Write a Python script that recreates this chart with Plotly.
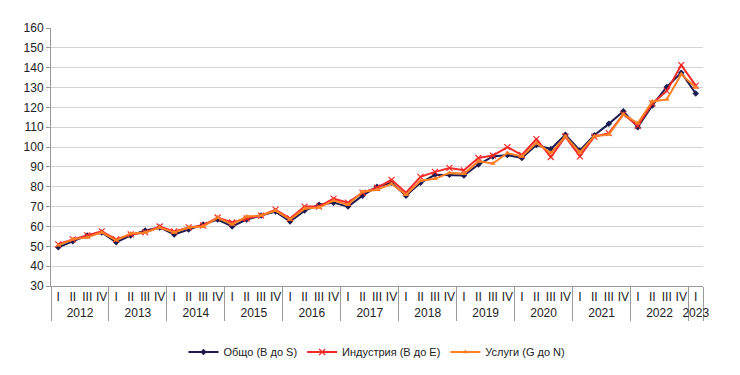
import plotly.graph_objects as go

years = ["2012", "2013", "2014", "2015", "2016", "2017", "2018", "2019", "2020", "2021", "2022", "2023"]
quarters = ["I", "II", "III", "IV"]

total = [49.5, 52.5, 55.5, 57, 52, 55.5, 58, 59.5, 56, 58.5, 61, 63.5,
         60, 63.5, 65.5, 67.5, 62.5, 68, 71, 72, 70, 75.5, 80, 82,
         75.5, 82, 86, 86, 85.7, 91.2, 95.3, 96, 94.5, 101, 99, 106.2,
         98.3, 106, 111.7, 118, 110, 121, 130.3, 137.5, 127]
industry = [51, 53.5, 55.5, 57.5, 53.5, 56, 57, 60, 57.5, 59.5, 60.5, 64.5,
            62, 64, 65.5, 68.5, 64, 70, 70, 74, 72, 77, 79.5, 83.5,
            77, 85, 87.5, 89.5, 88.3, 94.5, 95.7, 100, 96, 104, 95, 105.3,
            95.3, 105.3, 107, 116.5, 110.7, 122, 128.3, 141.3, 131]
services = [50.5, 53.5, 54.5, 57, 53, 56.5, 57, 59.5, 57, 59.5, 60, 64.5,
            61, 65, 65.5, 68, 63.5, 69, 69.5, 73, 71, 77.5, 78.5, 81.5,
            76, 83, 84, 87, 86.5, 92.8, 91.7, 97, 95.3, 102, 97, 105.5,
            97.3, 105.5, 106.3, 116.5, 112, 123, 124, 136.7, 130]

n = len(total)
x_year = [years[i // 4] for i in range(n)]
x_q = [quarters[i % 4] for i in range(n)]

fig = go.Figure()
fig.add_trace(go.Scatter(x=[x_year, x_q], y=total, name="Общо (B до S)", mode="lines+markers",
                         line=dict(color="#1c1c52", width=2),
                         marker=dict(symbol="diamond", size=5, color="#1c1c52")))
fig.add_trace(go.Scatter(x=[x_year, x_q], y=industry, name="Индустрия (B до E)", mode="lines+markers",
                         line=dict(color="#f52a2a", width=2),
                         marker=dict(symbol="x-thin", size=6, color="#f52a2a",
                                     line=dict(color="#f52a2a", width=1.2))))
fig.add_trace(go.Scatter(x=[x_year, x_q], y=services, name="Услуги (G до N)", mode="lines+markers",
                         line=dict(color="#ff7f24", width=2),
                         marker=dict(symbol="triangle-up", size=5, color="#ff7f24")))

fig.update_layout(
    width=732, height=367,
    margin=dict(l=43, r=37, t=20, b=89, autoexpand=False),
    paper_bgcolor="white", plot_bgcolor="white",
    font=dict(family="Liberation Sans, Arial, sans-serif", size=12, color="#222"),
    showlegend=True,
    legend=dict(orientation="h", x=0.5, xanchor="center", y=-0.256, yanchor="middle",
                font=dict(size=11, color="#222"), itemwidth=30, tracegroupgap=0),
)
fig.update_xaxes(type="multicategory", range=[-0.5, n - 0.5], autorange=False,
                 tickangle=0, dtick=1,
                 showgrid=False, showline=True, linecolor="#9a9a9a",
                 linewidth=1, showdividers=True, dividercolor="#9a9a9a", dividerwidth=1,
                 automargin=False, tickfont=dict(size=12, color="#222"), ticks="")
fig.update_yaxes(range=[30, 160], dtick=10, showgrid=True, gridcolor="#d4d4d4", gridwidth=1,
                 showline=True, linecolor="#9a9a9a", linewidth=1, ticks="outside",
                 ticklen=4, tickcolor="#9a9a9a", tickfont=dict(size=12, color="#222"),
                 zeroline=False, automargin=False)

fig.write_html("out.html")
